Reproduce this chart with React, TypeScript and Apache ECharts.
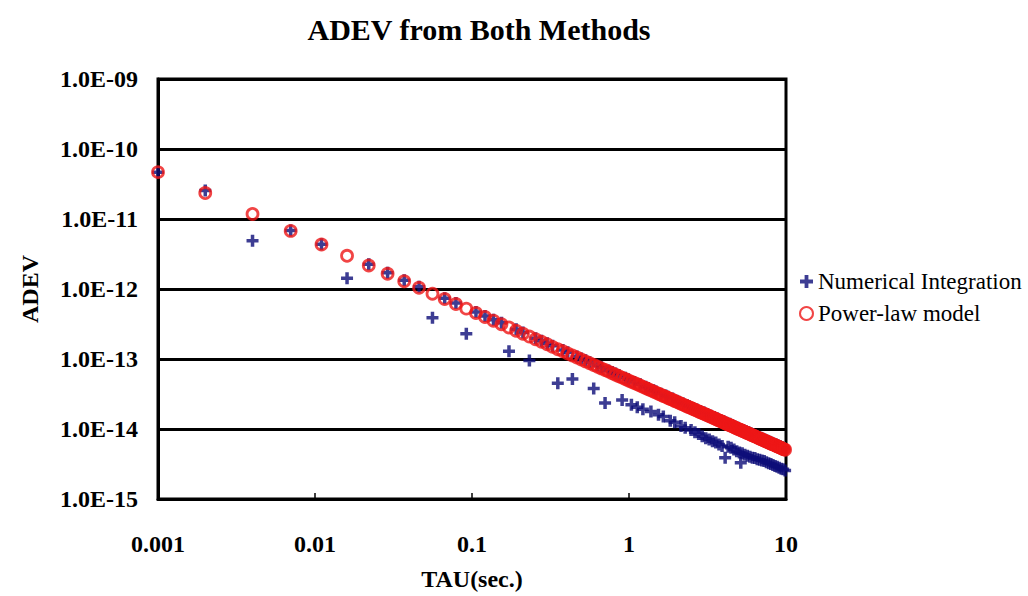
import React, { useEffect, useRef } from 'react';
import * as echarts from 'echarts';

// Averaging times (s)
const tau = [
  0.001, 0.002, 0.004, 0.007, 0.011, 0.016, 0.022, 0.029, 0.037, 0.046,
  0.056, 0.067, 0.079, 0.092, 0.106, 0.121, 0.137, 0.154, 0.172, 0.191,
  0.211, 0.232, 0.254, 0.277, 0.301, 0.326, 0.352, 0.379, 0.407, 0.436,
  0.466, 0.497, 0.529, 0.562, 0.596, 0.631, 0.667, 0.704, 0.742, 0.781,
  0.821, 0.862, 0.904, 0.947, 0.991, 1.036, 1.082, 1.129, 1.177, 1.226,
  1.276, 1.327, 1.379, 1.432, 1.486, 1.541, 1.597, 1.654, 1.712, 1.771,
  1.831, 1.892, 1.954, 2.017, 2.081, 2.146, 2.212, 2.279, 2.347, 2.416,
  2.486, 2.557, 2.629, 2.702, 2.776, 2.851, 2.927, 3.004, 3.082, 3.161,
  3.241, 3.322, 3.404, 3.487, 3.571, 3.656, 3.742, 3.829, 3.917, 4.006,
  4.096, 4.187, 4.279, 4.372, 4.466, 4.561, 4.657, 4.754, 4.852, 4.951,
  5.051, 5.152, 5.254, 5.357, 5.461, 5.566, 5.672, 5.779, 5.887, 5.996,
  6.106, 6.217, 6.329, 6.442, 6.556, 6.671, 6.787, 6.904, 7.022, 7.141,
  7.261, 7.382, 7.504, 7.627, 7.751, 7.876, 8.002, 8.129, 8.257, 8.386,
  8.516, 8.647, 8.779, 8.912, 9.046, 9.181, 9.317, 9.454, 9.592, 9.731,
  9.871,
];

// Power-law model ADEV
const powerLaw = [
  4.67e-11, 2.35e-11, 1.18e-11, 6.76e-12, 4.32e-12, 2.98e-12, 2.17e-12, 1.65e-12, 1.29e-12, 1.04e-12,
  8.57e-13, 7.18e-13, 6.09e-13, 5.24e-13, 4.55e-13, 3.99e-13, 3.53e-13, 3.14e-13, 2.82e-13, 2.54e-13,
  2.30e-13, 2.09e-13, 1.91e-13, 1.76e-13, 1.62e-13, 1.49e-13, 1.38e-13, 1.29e-13, 1.20e-13, 1.12e-13,
  1.05e-13, 9.83e-14, 9.24e-14, 8.70e-14, 8.20e-14, 7.75e-14, 7.34e-14, 6.95e-14, 6.60e-14, 6.27e-14,
  5.97e-14, 5.68e-14, 5.42e-14, 5.17e-14, 4.94e-14, 4.73e-14, 4.53e-14, 4.35e-14, 4.17e-14, 4.00e-14,
  3.85e-14, 3.70e-14, 3.56e-14, 3.43e-14, 3.31e-14, 3.19e-14, 3.08e-14, 2.97e-14, 2.88e-14, 2.78e-14,
  2.69e-14, 2.61e-14, 2.52e-14, 2.44e-14, 2.37e-14, 2.30e-14, 2.23e-14, 2.17e-14, 2.10e-14, 2.04e-14,
  1.99e-14, 1.93e-14, 1.88e-14, 1.83e-14, 1.78e-14, 1.73e-14, 1.69e-14, 1.65e-14, 1.61e-14, 1.57e-14,
  1.53e-14, 1.49e-14, 1.46e-14, 1.42e-14, 1.39e-14, 1.36e-14, 1.32e-14, 1.30e-14, 1.27e-14, 1.24e-14,
  1.21e-14, 1.18e-14, 1.16e-14, 1.14e-14, 1.11e-14, 1.09e-14, 1.07e-14, 1.04e-14, 1.02e-14, 1.00e-14,
  9.84e-15, 9.65e-15, 9.46e-15, 9.28e-15, 9.10e-15, 8.93e-15, 8.76e-15, 8.60e-15, 8.45e-15, 8.29e-15,
  8.15e-15, 8.00e-15, 7.86e-15, 7.72e-15, 7.59e-15, 7.46e-15, 7.33e-15, 7.21e-15, 7.09e-15, 6.97e-15,
  6.85e-15, 6.74e-15, 6.63e-15, 6.53e-15, 6.42e-15, 6.32e-15, 6.22e-15, 6.12e-15, 6.03e-15, 5.94e-15,
  5.85e-15, 5.76e-15, 5.67e-15, 5.59e-15, 5.51e-15, 5.43e-15, 5.35e-15, 5.27e-15, 5.19e-15, 5.12e-15,
  5.05e-15,
];

// Numerical integration ADEV
const numerical = [
  4.67e-11, 2.55e-11, 4.9e-12, 6.85e-12, 4.35e-12, 1.43e-12, 2.25e-12, 1.7e-12, 1.33e-12, 1.08e-12,
  3.9e-13, 7.4e-13, 6.3e-13, 2.3e-13, 4.7e-13, 4.1e-13, 3.65e-13, 3.3e-13, 1.29e-13, 2.65e-13,
  2.4e-13, 9.5e-14, 1.98e-13, 1.83e-13, 1.68e-13, 1.55e-13, 4.5e-14, 1.34e-13, 1.25e-13, 5.2e-14,
  1.09e-13, 1.02e-13, 9.6e-14, 9.0e-14, 3.8e-14, 8.05e-14, 7.6e-14, 2.35e-14, 6.85e-14, 6.5e-14,
  6.2e-14, 5.9e-14, 2.6e-14, 5.4e-14, 5.15e-14, 2.22e-14, 4.7e-14, 2.05e-14, 4.35e-14, 1.92e-14,
  4.0e-14, 3.85e-14, 1.78e-14, 3.57e-14, 3.44e-14, 1.6e-14, 3.2e-14, 1.51e-14, 3.0e-14, 2.9e-14,
  1.31e-14, 2.72e-14, 1.25e-14, 2.54e-14, 2.46e-14, 1.10e-14, 2.32e-14, 1.04e-14, 2.18e-14, 2.12e-14,
  9.7e-15, 2.0e-14, 9.0e-15, 1.9e-14, 8.5e-15, 1.8e-14, 7.9e-15, 1.72e-14, 7.4e-15, 1.63e-14,
  7.1e-15, 1.55e-14, 6.7e-15, 1.48e-14, 6.4e-15, 1.41e-14, 6.0e-15, 1.35e-14, 5.7e-15, 1.29e-14,
  3.9e-15, 1.23e-14, 5.6e-15, 1.19e-14, 5.4e-15, 1.13e-14, 5.1e-15, 1.08e-14, 4.8e-15, 1.04e-14,
  4.6e-15, 3.3e-15, 4.5e-15, 9.65e-15, 4.3e-15, 9.3e-15, 4.15e-15, 8.95e-15, 4.0e-15, 8.6e-15,
  3.9e-15, 8.3e-15, 3.85e-15, 8.0e-15, 3.7e-15, 7.75e-15, 3.65e-15, 7.5e-15, 3.55e-15, 7.25e-15,
  3.5e-15, 7.0e-15, 3.35e-15, 6.8e-15, 3.25e-15, 6.55e-15, 3.15e-15, 6.35e-15, 3.05e-15, 6.15e-15,
  2.95e-15, 6.0e-15, 2.9e-15, 5.8e-15, 2.8e-15, 5.65e-15, 2.7e-15, 5.5e-15, 2.65e-15, 5.3e-15,
  2.55e-15,
];

const xTickLabels = ['0.001', '0.01', '0.1', '1', '10'];
const yTickLabels = ['1.0E-15', '1.0E-14', '1.0E-13', '1.0E-12', '1.0E-11', '1.0E-10', '1.0E-09'];

const FONT = "'Liberation Serif', 'Times New Roman', serif";
const CROSS = 'path://M4.25,0H7.75V4.25H12V7.75H7.75V12H4.25V7.75H0V4.25H4.25Z';
const BLUE = '#0c0c78';
const RED = '#ee1616';

export default function App() {
  const ref = useRef<HTMLDivElement>(null);

  useEffect(() => {
    document.body.style.margin = '0';
    if (!ref.current) return;
    const chart = echarts.init(ref.current, undefined, { renderer: 'svg' });
    chart.setOption({
      animation: false,
      backgroundColor: '#ffffff',
      title: {
        text: 'ADEV from Both Methods',
        left: 474,
        textAlign: 'center',
        top: 9,
        textStyle: { fontFamily: FONT, fontSize: 30, fontWeight: 'bold', color: '#000' },
      },
      legend: {
        orient: 'vertical',
        left: 794,
        top: 265,
        itemGap: 9,
        itemWidth: 13,
        itemHeight: 13,
        textStyle: { fontFamily: FONT, fontSize: 23, color: '#000' },
        data: [
          { name: 'Numerical Integration', icon: CROSS },
          { name: 'Power-law model', icon: 'circle' },
        ],
      },
      grid: {
        left: 158,
        right: 242,
        top: 79,
        bottom: 94,
        show: true,
        borderColor: '#000',
        borderWidth: 3,
      },
      xAxis: {
        type: 'log',
        logBase: 10,
        min: 0.001,
        max: 10,
        axisLine: { show: true, lineStyle: { color: '#000', width: 3 } },
        axisTick: { show: true, inside: true, length: 6, lineStyle: { color: '#000', width: 1.5 } },
        splitLine: { show: false },
        axisLabel: {
          margin: 33,
          fontFamily: FONT,
          fontSize: 24,
          fontWeight: 'bold',
          color: '#000',
          formatter: (v: number) => xTickLabels[Math.round(Math.log10(v)) + 3],
        },
        name: 'TAU(sec.)',
        nameLocation: 'middle',
        nameGap: 68,
        nameTextStyle: { fontFamily: FONT, fontSize: 24, fontWeight: 'bold', color: '#000' },
      },
      yAxis: {
        type: 'log',
        logBase: 10,
        min: 1e-15,
        max: 1e-9,
        axisLine: { show: true, lineStyle: { color: '#000', width: 3 } },
        axisTick: { show: false },
        splitLine: { show: true, lineStyle: { color: '#000', width: 3 } },
        axisLabel: {
          margin: 20,
          fontFamily: FONT,
          fontSize: 24,
          fontWeight: 'bold',
          color: '#000',
          formatter: (v: number) => yTickLabels[Math.round(Math.log10(v)) + 15],
        },
        name: 'ADEV',
        nameLocation: 'middle',
        nameGap: 116,
        nameRotate: 90,
        nameTextStyle: { fontFamily: FONT, fontSize: 24, fontWeight: 'bold', color: '#000' },
      },
      series: [
        {
          type: 'scatter',
          name: 'Numerical Integration',
          data: tau.map((t, i) => [t, numerical[i]]),
          symbol: CROSS,
          symbolSize: 12,
          itemStyle: { color: BLUE },
          z: 2,
        },
        {
          type: 'scatter',
          name: 'Power-law model',
          data: tau.map((t, i) => [t, powerLaw[i]]),
          symbol: 'circle',
          symbolSize: 11,
          itemStyle: { color: 'rgba(255,255,255,0)', borderColor: RED, borderWidth: 2.8 },
          z: 3,
        },
      ],
    });
    return () => chart.dispose();
  }, []);

  return <div ref={ref} style={{ width: 1028, height: 596 }} />;
}
